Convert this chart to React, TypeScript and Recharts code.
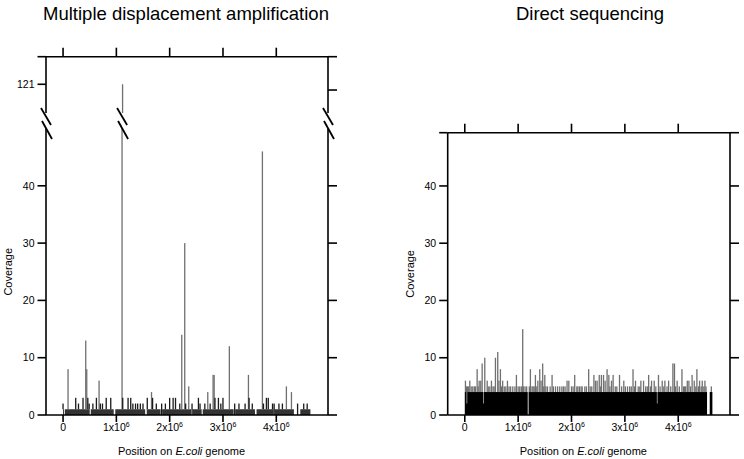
import React from 'react';
import { ComposedChart, Bar, Area, XAxis, YAxis, Cell, ReferenceDot } from 'recharts';

const FONT = '"Liberation Sans", Arial, Helvetica, sans-serif';

// genome axis (positions in bp)
const xTicks = [0, 1e6, 2e6, 3e6, 4e6];
const X_DOMAIN = [-0.32e6, 4.97e6];

// ---- Multiple displacement amplification ----
// bars, positions in Mb
const mdaPos = [
  0.0, 0.094, 0.238, 0.29, 0.375, 0.426, 0.445, 0.465, 0.49, 0.56, 0.626, 0.676, 0.7, 0.74,
  0.81, 0.895, 1.107, 1.12, 1.22, 1.27, 1.31, 1.36, 1.4, 1.45, 1.5, 1.58, 1.66, 1.68, 1.75,
  1.85, 1.92, 2.0, 2.065, 2.11, 2.19, 2.227, 2.283, 2.3, 2.358, 2.42, 2.54, 2.57, 2.66, 2.715,
  2.76, 2.815, 2.835, 2.85, 2.915, 2.96, 3.0, 3.12, 3.22, 3.3, 3.415, 3.478, 3.49, 3.55,
  3.74, 3.76, 3.815, 3.85, 3.93, 3.96, 4.05, 4.115, 4.19, 4.285, 4.4, 4.515, 4.58,
];
const mdaCov = [
  2, 8, 3, 2, 3, 13, 8, 3, 2, 2, 3, 6, 2, 2,
  3, 3, 121, 3, 3, 3, 2, 2, 2, 2, 2, 3, 4, 3, 2,
  2, 2, 3, 3, 3, 2, 14, 30, 2, 5, 2, 3, 2, 2, 4,
  2, 7, 7, 3, 3, 2, 3, 12, 2, 2, 2, 7, 3, 2,
  46, 2, 3, 3, 2, 2, 2, 2, 5, 4, 2, 2, 2,
];
// low coverage band (step profile)
const mdaBasePos = [0, 0.02, 0.035, 0.5, 0.52, 0.95, 0.98, 1.54, 1.57, 1.83, 1.86, 2.4, 2.43, 2.6, 2.62, 3.2, 3.23, 3.6, 3.63, 3.95, 3.97, 4.33, 4.45, 4.64];
const mdaBaseCov = [1, 0, 1, 0, 1, 0, 1, 0, 1, 0, 1, 0, 1, 0, 1, 0, 1, 0, 1, 0, 1, 0, 1, 0];

const MDA_LOW = [0, 50];
const MDA_HIGH = [116, 125.8];
const mdaLowTicks = [0, 10, 20, 30, 40];
const mdaHighLeftTicks = [121, 125.8];
const mdaHighRightTicks = [120, 125.8];

// ---- Direct sequencing ----
const seqPos = [
  0.013, 0.03, 0.05, 0.07, 0.094, 0.12, 0.15, 0.18, 0.2, 0.232,
  0.25, 0.27, 0.3, 0.326, 0.375, 0.42, 0.44, 0.47, 0.5, 0.53,
  0.55, 0.575, 0.618, 0.64, 0.668, 0.69, 0.71, 0.74, 0.77, 0.8,
  0.83, 0.86, 0.9, 0.94, 0.968, 1.0, 1.03, 1.06, 1.086, 1.1,
  1.13, 1.16, 1.21, 1.23, 1.26, 1.28, 1.3, 1.324, 1.35, 1.37,
  1.405, 1.43, 1.46, 1.48, 1.5, 1.52, 1.55, 1.6, 1.636, 1.66,
  1.7, 1.74, 1.78, 1.82, 1.85, 1.88, 1.917, 1.95, 2.0, 2.03,
  2.06, 2.1, 2.12, 2.15, 2.18, 2.2, 2.25, 2.28, 2.322, 2.35,
  2.38, 2.42, 2.45, 2.48, 2.52, 2.54, 2.56, 2.6, 2.63, 2.667,
  2.7, 2.72, 2.75, 2.78, 2.82, 2.85, 2.9, 2.94, 2.98, 3.01,
  3.05, 3.09, 3.12, 3.153, 3.18, 3.2, 3.25, 3.28, 3.3, 3.35,
  3.39, 3.42, 3.446, 3.48, 3.5, 3.55, 3.58, 3.63, 3.66, 3.7,
  3.73, 3.75, 3.79, 3.82, 3.86, 3.9, 3.93, 3.95, 3.98, 4.02,
  4.07, 4.1, 4.12, 4.14, 4.17, 4.2, 4.23, 4.26, 4.3, 4.33,
  4.35, 4.38, 4.4, 4.43, 4.45, 4.48, 4.5, 4.52, 4.62,
];
const seqCov = [
  6, 5, 5, 5, 6, 5, 5, 5, 5, 8,
  5, 6, 6, 9, 10, 6, 5, 5, 6, 5,
  5, 10, 11, 6, 8, 5, 6, 5, 5, 6,
  5, 5, 5, 5, 7, 5, 5, 5, 15, 5,
  5, 5, 5, 8, 5, 5, 5, 7, 5, 6,
  8, 6, 9, 5, 7, 5, 5, 5, 7, 5,
  5, 5, 5, 5, 5, 5, 6, 6, 5, 5,
  7, 5, 5, 5, 5, 5, 5, 5, 8, 5,
  5, 7, 6, 6, 7, 5, 7, 7, 6, 8,
  7, 5, 6, 7, 5, 5, 7, 5, 6, 5,
  5, 5, 5, 8, 5, 6, 5, 5, 6, 6,
  5, 5, 7, 5, 6, 6, 5, 7, 5, 6,
  5, 6, 5, 6, 5, 9, 9, 5, 6, 5,
  8, 5, 5, 5, 6, 6, 5, 7, 6, 5,
  8, 5, 6, 5, 6, 5, 6, 5, 5,
];
const seqBasePos = [0, 0.035, 0.045, 0.35, 0.36, 1.18, 1.195, 3.6, 3.61, 4.54, 4.59, 4.64];
const seqBaseCov = [4, 2, 4, 2, 4, 0, 4, 2, 4, 0, 4, 0];

const SEQ_TOP = 49.3;
const seqTicks = [0, 10, 20, 30, 40, SEQ_TOP];

// coverage of the step profile at a given position (Mb)
function baseAt(p: number, basePos: number[], baseCov: number[]) {
  let v = 0;
  for (let i = 0; i < basePos.length; i++) if (basePos[i] <= p) v = baseCov[i];
  return v;
}

// peaks are drawn from the top of the band up, so the band stays solid
function buildRows(pos: number[], cov: number[], basePos: number[], baseCov: number[]) {
  const rows: any[] = [
    ...pos.map((p, i) => ({ pos: p * 1e6, cov: cov[i], range: [baseAt(p, basePos, baseCov), cov[i]] })),
    ...basePos.map((p, i) => ({ pos: p * 1e6, base: baseCov[i] })),
  ];
  rows.sort((a, b) => a.pos - b.pos);
  return rows;
}

const mdaRows = buildRows(mdaPos, mdaCov, mdaBasePos, mdaBaseCov);
const mdaHighRows = mdaRows.filter((r) => r.cov > MDA_HIGH[0]);
const seqRows = buildRows(seqPos, seqCov, seqBasePos, seqBaseCov);
const spikeX = mdaPos[mdaCov.indexOf(Math.max(...mdaCov))] * 1e6;

const line = { stroke: '#000', strokeWidth: 1.6 };
const tickFont = { fill: '#000', fontSize: 10.5, fontFamily: FONT };
const NoLabel = () => <g />;
const PEAK = '#707070';

// thin line-like bar of fixed width, centred on the position recharts computed
const ThinBar = (props: any) => {
  const { x, y, width, height, fill } = props;
  if (!(height > 0)) return <g />;
  const w = 1.3;
  return <rect x={x + width / 2 - w / 2} y={y} width={w} height={height} fill={fill} />;
};

const GenomeTick = (props: any) => {
  const { x, y, payload } = props;
  const m = Math.round(payload.value / 1e6);
  return (
    <text x={x} y={y} dy="0.71em" textAnchor="middle" fill="#000" fontSize={10.5} fontFamily={FONT}>
      {m === 0 ? '0' : <>{m}x10<tspan dy={-4} fontSize={7}>6</tspan></>}
    </text>
  );
};

const XTitle = (props: any) => {
  const { x, y, width } = props.viewBox;
  return (
    <text x={x + width / 2 - 5.5} y={y + 40} textAnchor="middle" fill="#000" fontSize={11} fontFamily={FONT}>
      Position on <tspan fontStyle="italic">E.coli</tspan> genome
    </text>
  );
};

const YTitle = (props: any) => {
  const { x, y, height } = props.viewBox;
  const cx = x + 8;
  const cy = y + height / 2;
  return (
    <text x={cx} y={cy} transform={`rotate(-90 ${cx} ${cy})`} textAnchor="middle" dominantBaseline="central" fill="#000" fontSize={11} fontFamily={FONT}>
      Coverage
    </text>
  );
};

const BreakMark = (props: any) => {
  const { cx, cy } = props;
  return (
    <g stroke="#000" strokeWidth={1.8}>
      <line x1={cx - 5} y1={cy - 20.5} x2={cx + 5} y2={cy - 3.5} />
      <line x1={cx - 4} y1={cy - 7.5} x2={cx + 6} y2={cy + 10.5} />
    </g>
  );
};

const noTop = (top: number) => (v: number) => (v === top ? '' : String(v));

export default function App() {
  return (
    <div style={{ position: 'absolute', left: 0, top: 0, width: 744, height: 459, background: '#fff' }}>
      {/* MDA lower segment */}
      <div style={{ position: 'absolute', left: 0, top: 0 }}>
        <ComposedChart width={372} height={459} data={mdaRows} margin={{ top: 128.5, right: 32, bottom: 14, left: 0 }}>
          <XAxis xAxisId="b" dataKey="pos" type="number" domain={X_DOMAIN} allowDataOverflow ticks={xTicks} interval={0}
            tickSize={7} tickMargin={2} tick={<GenomeTick />} height={30} axisLine={line} tickLine={line}
            label={{ content: XTitle }} />
          <YAxis yAxisId="l" type="number" domain={MDA_LOW} allowDataOverflow ticks={mdaLowTicks} interval={0}
            tickSize={8.5} tickMargin={3} width={46} tick={tickFont} axisLine={line} tickLine={line}
            label={{ content: YTitle }} />
          <YAxis yAxisId="r" orientation="right" type="number" domain={MDA_LOW} allowDataOverflow ticks={mdaLowTicks}
            interval={0} tickSize={9} tick={NoLabel} width={12} axisLine={line} tickLine={line} />
          <Area xAxisId="b" yAxisId="l" dataKey="base" type="stepAfter" connectNulls stroke="none" fill="#333"
            fillOpacity={1} isAnimationActive={false} dot={false} activeDot={false} />
          <Bar xAxisId="b" yAxisId="l" dataKey="range" barSize={1} shape={ThinBar} isAnimationActive={false}>
            {mdaRows.map((r, i) => (
              <Cell key={i} fill={r.cov > 3 ? PEAK : '#1a1a1a'} />
            ))}
          </Bar>
          <ReferenceDot xAxisId="b" yAxisId="l" x={X_DOMAIN[0]} y={MDA_LOW[1]} ifOverflow="visible" shape={BreakMark} />
          <ReferenceDot xAxisId="b" yAxisId="l" x={spikeX} y={MDA_LOW[1]} ifOverflow="visible" shape={BreakMark} />
          <ReferenceDot xAxisId="b" yAxisId="l" x={X_DOMAIN[1]} y={MDA_LOW[1]} ifOverflow="visible" shape={BreakMark} />
        </ComposedChart>
      </div>

      {/* MDA upper segment */}
      <div style={{ position: 'absolute', left: 0, top: 0 }}>
        <ComposedChart width={372} height={130} data={mdaHighRows} margin={{ top: 36.7, right: 32, bottom: 17, left: 0 }}>
          <XAxis xAxisId="t" orientation="top" dataKey="pos" type="number" domain={X_DOMAIN} allowDataOverflow
            ticks={xTicks} interval={0} tick={NoLabel} tickSize={9} height={20} axisLine={line} tickLine={line} />
          <YAxis yAxisId="l" type="number" domain={MDA_HIGH} allowDataOverflow ticks={mdaHighLeftTicks} interval={0}
            tickSize={8.5} tickMargin={3} width={46} tick={tickFont} tickFormatter={noTop(MDA_HIGH[1])}
            axisLine={line} tickLine={line} />
          <YAxis yAxisId="r" orientation="right" type="number" domain={MDA_HIGH} allowDataOverflow
            ticks={mdaHighRightTicks} interval={0} tickSize={9} tick={NoLabel} width={12} axisLine={line} tickLine={line} />
          <Bar xAxisId="t" yAxisId="l" dataKey="cov" barSize={1} shape={ThinBar} fill={PEAK} isAnimationActive={false} />
        </ComposedChart>
      </div>

      {/* Direct sequencing */}
      <div style={{ position: 'absolute', left: 372, top: 0 }}>
        <ComposedChart width={372} height={459} data={seqRows} margin={{ top: 112.7, right: 2, bottom: 14, left: 29.7 }}>
          <XAxis xAxisId="t" orientation="top" dataKey="pos" type="number" domain={X_DOMAIN} allowDataOverflow
            ticks={xTicks} interval={0} tick={NoLabel} tickSize={9} height={20} axisLine={line} tickLine={line} />
          <XAxis xAxisId="b" dataKey="pos" type="number" domain={X_DOMAIN} allowDataOverflow ticks={xTicks} interval={0}
            tickSize={7} tickMargin={2} tick={<GenomeTick />} height={30} axisLine={line} tickLine={line}
            label={{ content: XTitle }} />
          <YAxis yAxisId="l" type="number" domain={[0, SEQ_TOP]} allowDataOverflow ticks={seqTicks} interval={0}
            tickSize={8.5} tickMargin={3} width={46} tick={tickFont} tickFormatter={noTop(SEQ_TOP)}
            axisLine={line} tickLine={line} label={{ content: YTitle }} />
          <YAxis yAxisId="r" orientation="right" type="number" domain={[0, SEQ_TOP]} allowDataOverflow ticks={seqTicks}
            interval={0} tickSize={9} tick={NoLabel} width={12} axisLine={line} tickLine={line} />
          <Area xAxisId="b" yAxisId="l" dataKey="base" type="stepAfter" connectNulls stroke="none" fill="#000"
            fillOpacity={1} isAnimationActive={false} dot={false} activeDot={false} />
          <Bar xAxisId="b" yAxisId="l" dataKey="range" barSize={1} shape={ThinBar} fill={PEAK} isAnimationActive={false} />
        </ComposedChart>
      </div>

      <svg width={744} height={459} style={{ position: 'absolute', left: 0, top: 0, pointerEvents: 'none' }}>
        <text x={186} y={19.5} textAnchor="middle" fill="#000" fontSize={18.5} fontFamily={FONT}>
          Multiple displacement amplification
        </text>
        <text x={590} y={19.5} textAnchor="middle" fill="#000" fontSize={18.5} fontFamily={FONT}>
          Direct sequencing
        </text>
      </svg>
    </div>
  );
}
